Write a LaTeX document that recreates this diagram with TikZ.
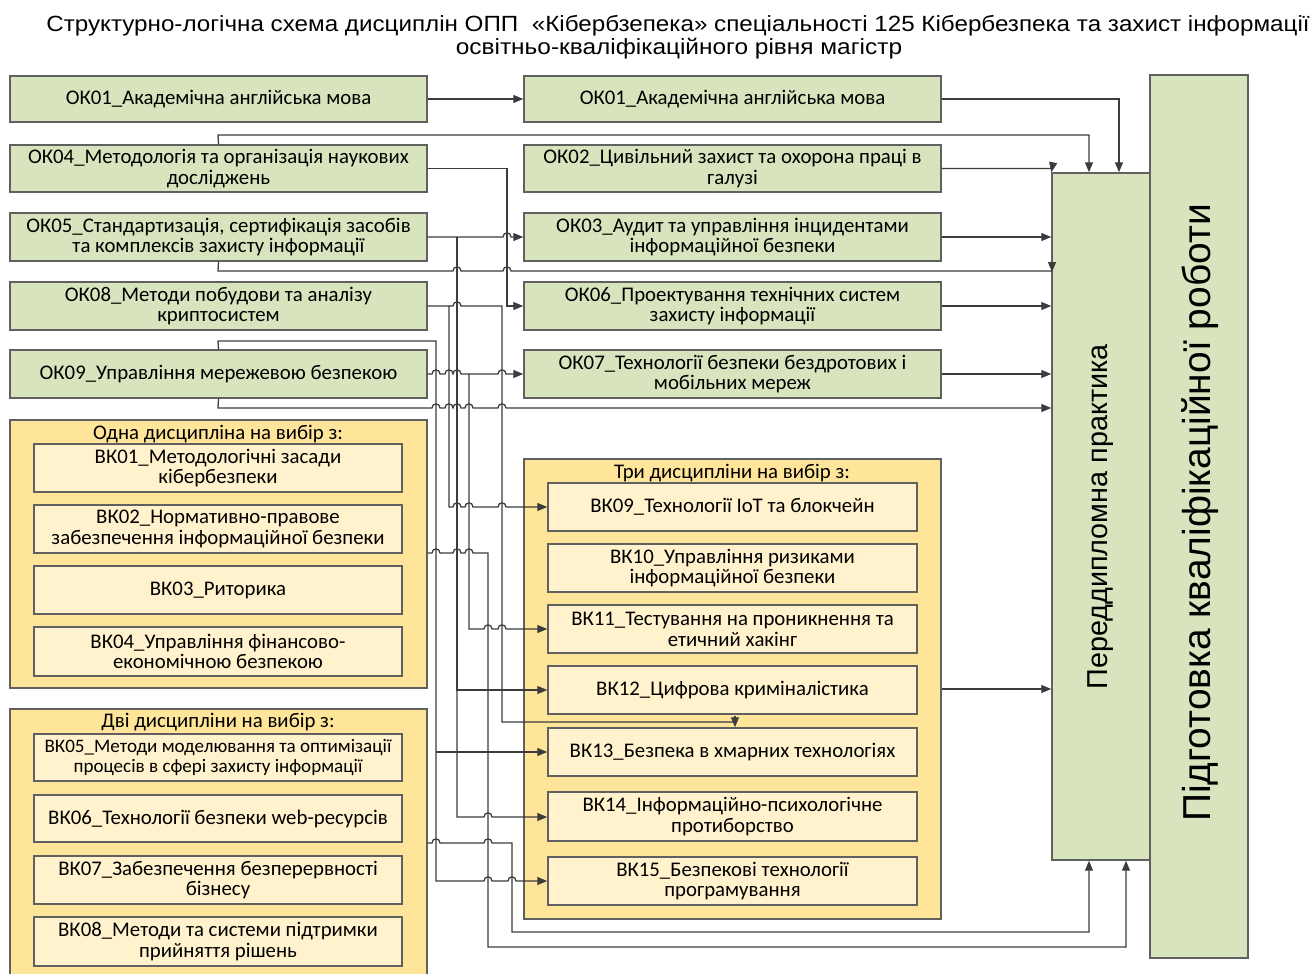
\documentclass[tikz,border=0pt]{standalone}
\usepackage{fontspec}
\setmainfont{Carlito}
\newfontfamily\arialf{Liberation Sans}
\usetikzlibrary{arrows.meta}
\definecolor{gfill}{RGB}{215,228,189}
\definecolor{yout}{RGB}{255,229,153}
\definecolor{yin}{RGB}{255,242,204}
\definecolor{bord}{RGB}{96,96,96}
\definecolor{ln}{RGB}{60,60,60}
\newcommand\jp[2]{-- ({#1-4},#2) .. controls ({#1-4},{#2-5.5}) and ({#1+4},{#2-5.5}) .. ({#1+4},#2)}
\newcommand\bx[7]{\node[#1, minimum width={(#5-#3)*0.75pt}, minimum height={(#6-#4)*0.75pt}] (#2) at ({(#3+#5)/2},{(#4+#6)/2}) {#7};}
\begin{document}
\begin{tikzpicture}[x=0.75pt,y=-0.75pt,
 box/.style={draw=bord, line width=1.1pt, inner sep=0pt, align=center, font=\fontsize{15.6pt}{15.6pt}\selectfont},
 gbox/.style={box, fill=gfill},
 ibox/.style={box, fill=yin},
 grp/.style={draw=bord, line width=1.1pt, fill=yout, inner sep=0pt},
 gtitle/.style={inner sep=0pt, font=\fontsize{15.6pt}{15.6pt}\selectfont},
 conn/.style={draw=ln, line width=0.95pt},
 arr/.style={conn, -{Triangle[length=7.5pt,width=6pt]}},
 ttl/.style={anchor=base, inner sep=0pt, font=\arialf\fontsize{16.5pt}{18pt}\selectfont}
]
\useasboundingbox (0,0) rectangle (1315,974);
% title
\node[ttl] (t1) at (678,32) {\scalebox{1.1}[1]{Структурно-логічна схема дисциплін ОПП\ \ «Кібербзепека» спеціальності 125 Кібербезпека та захист інформації}};
\node[ttl] (t2) at (679,55) {\scalebox{1.11}[1]{освітньо-кваліфікаційного рівня магістр}};
% left green
\bx{gbox}{ok01l}{10}{76}{427}{122}{ОК01\_Академічна англійська мова}
\bx{gbox}{ok04}{10}{145}{427}{192}{ОК04\_Методологія та організація наукових\\досліджень}
\bx{gbox}{ok05}{10}{213}{427}{261}{ОК05\_Стандартизація, сертифікація засобів\\та комплексів захисту інформації}
\bx{gbox}{ok08}{10}{282}{427}{330}{ОК08\_Методи побудови та аналізу\\криптосистем}
\bx{gbox}{ok09}{10}{350}{427}{398}{ОК09\_Управління мережевою безпекою}
% middle green
\bx{gbox}{ok01r}{524}{76}{941}{122}{ОК01\_Академічна англійська мова}
\bx{gbox}{ok02}{524}{145}{941}{192}{ОК02\_Цивільний захист та охорона праці в\\галузі}
\bx{gbox}{ok03}{524}{213}{941}{261}{ОК03\_Аудит та управління інцидентами\\інформаційної безпеки}
\bx{gbox}{ok06}{524}{282}{941}{330}{ОК06\_Проектування технічних систем\\захисту інформації}
\bx{gbox}{ok07}{524}{350}{941}{398}{ОК07\_Технології безпеки бездротових і\\мобільних мереж}
% group 1
\bx{grp}{grp1}{10}{420}{427}{688}{}
\node[gtitle] (g1t) at (218,434) {Одна дисципліна на вибір з:};
\bx{ibox}{bk01}{34}{444}{402}{492}{ВК01\_Методологічні засади\\кібербезпеки}
\bx{ibox}{bk02}{34}{505}{402}{553}{ВК02\_Нормативно-правове\\забезпечення інформаційної безпеки}
\bx{ibox}{bk03}{34}{566}{402}{614}{ВК03\_Риторика}
\bx{ibox}{bk04}{34}{627}{402}{676}{ВК04\_Управління фінансово-\\економічною безпекою}
% group 2
\bx{grp}{grp2}{10}{709}{427}{990}{}
\node[gtitle] (g2t) at (218,722) {Дві дисципліни на вибір з:};
\bx{ibox, font=\fontsize{14.3pt}{14.6pt}\selectfont}{bk05}{34}{734}{402}{781}{ВК05\_Методи моделювання та оптимізації\\процесів в сфері захисту інформації}
\bx{ibox}{bk06}{34}{795}{402}{842}{ВК06\_Технології безпеки web-ресурсів}
\bx{ibox}{bk07}{34}{856}{402}{904}{ВК07\_Забезпечення безперервності\\бізнесу}
\bx{ibox}{bk08}{34}{917}{402}{966}{ВК08\_Методи та системи підтримки\\прийняття рішень}
% group 3
\bx{grp}{grp3}{524}{459}{941}{919}{}
\node[gtitle] (g3t) at (732,473) {Три дисципліни на вибір з:};
\bx{ibox}{bk09}{548}{483}{917}{531}{ВК09\_Технології IoT та блокчейн}
\bx{ibox}{bk10}{548}{544}{917}{592}{ВК10\_Управління ризиками\\інформаційної безпеки}
\bx{ibox}{bk11}{548}{605}{917}{653}{ВК11\_Тестування на проникнення та\\етичний хакінг}
\bx{ibox}{bk12}{548}{666}{917}{714}{ВК12\_Цифрова криміналістика}
\bx{ibox}{bk13}{548}{728}{917}{776}{ВК13\_Безпека в хмарних технологіях}
\bx{ibox}{bk14}{548}{792}{917}{841}{ВК14\_Інформаційно-психологічне\\протиборство}
\bx{ibox}{bk15}{548}{857}{917}{905}{ВК15\_Безпекові технології\\програмування}
% right boxes
\bx{gbox}{podg}{1150}{75}{1248}{958}{}
\bx{gbox}{prak}{1052}{173}{1150}{860}{}
\node[rotate=90, inner sep=0pt, font=\arialf\fontsize{21.6pt}{23pt}\selectfont] (prakt) at (1101,517) {Переддипломна практика};
\node[rotate=90, inner sep=0pt, font=\arialf\fontsize{29.2pt}{31pt}\selectfont] (podgt) at (1200,513) {Підготовка кваліфікаційної роботи};
% connectors
\draw[arr] (ok01l.east) -- (ok01r.west);
\draw[arr] (ok01r.east) -| (1119,0 |- prak.north);
\draw[arr] (ok04.north) -- (218,135) -| (1089,0 |- prak.north);
\draw[arr] (ok04.east) -| (507,306) -- (ok06.west);
\draw[arr] (ok02.east) -- (1052,168.5) -- (prak.north west);
\draw[arr] (ok03.east) -- (ok03.east -| prak.west);
\draw[arr] (ok06.east) -- (ok06.east -| prak.west);
\draw[arr] (ok07.east) -- (ok07.east -| prak.west);
% OK05
\draw[conn] (ok05.south) -- (218,271) \jp{457}{271} \jp{507}{271} -- (1052,271);
\coordinate (tipA) at (1052,272);
\draw[arr] (1052,262) -- (tipA);
\draw[arr] (ok05.east) -- (457,237) \jp{507}{237} -- (ok03.west);
\draw[arr] (457,237) -- (457,690) -- (bk12.west);
\draw[arr] (457,690) -- (457,817) \jp{488}{817} -- (bk14.west |- 0,817);
% OK08
\draw[arr] (ok08.east) -- (449,306) -- (449,507) \jp{457}{507} \jp{469}{507} \jp{502}{507} -- (bk09.west);
\draw[conn] (449,306) \jp{457}{306} -- (502,306) -- (502,722) -- (735,722);
\draw[arr] (735,716) -- (735,0 |- bk13.north);
% OK09
\draw[arr] (ok09.north) -- (218,341) -- (436,341) -- (436,881) \jp{488}{881} \jp{512}{881} -- (bk15.west);
\draw[arr] (436,752) -- (bk13.west);
\draw[arr] (ok09.east) \jp{436}{374} \jp{449}{374} \jp{457}{374} -- (469,374) \jp{502}{374} -- (ok07.west);
\draw[arr] (469,374) -- (469,629) \jp{488}{629} \jp{502}{629} -- (bk11.west);
\draw[arr] (ok09.south) -- (218,408) \jp{436}{408} \jp{449}{408} \jp{457}{408} \jp{469}{408} \jp{502}{408} -- (prak.west |- 0,408);
% groups
\draw[arr] (grp1.east |- 0,553) \jp{436}{553} \jp{457}{553} \jp{469}{553} -- (488,553) -- (488,947) -- (1126,947) -- (1126,0 |- prak.south);
\draw[arr] (grp2.east |- 0,843) \jp{436}{843} \jp{488}{843} -- (512,843) -- (512,932) -- (1089,932) -- (1089,0 |- prak.south);
\draw[arr] (grp3.east |- 0,689) -- (prak.west |- 0,689);
\end{tikzpicture}
\end{document}
